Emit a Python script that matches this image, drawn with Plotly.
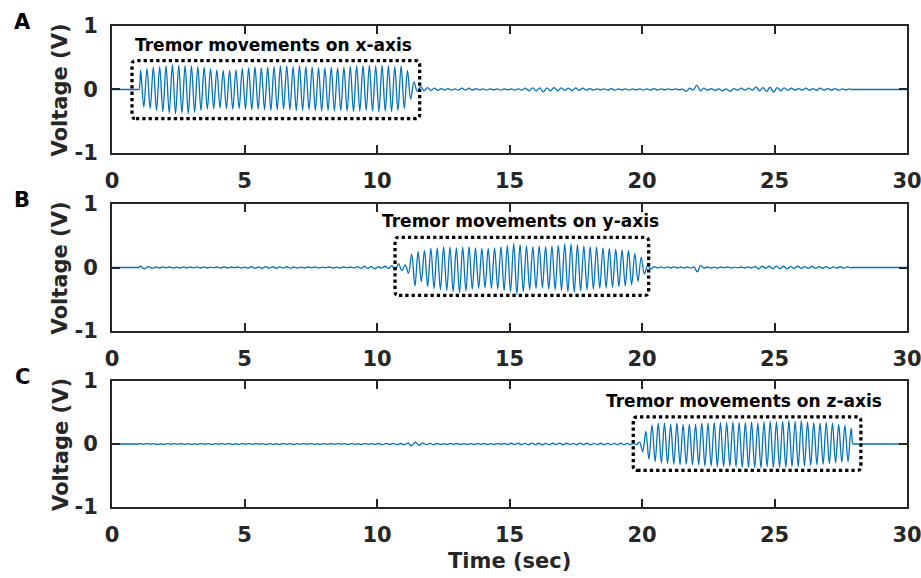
import plotly.graph_objects as go

# ---------------- data (values in mV) ----------------
# Panel A (x-axis tremor)
peaks_A = [300,330,350,360,370,390,380,380,370,360,350,330,310,300,300,310,330,340,350,340,
           350,360,370,370,360,370,360,350,340,340,350,340,350,360,370,380,380,370,380,370,
           360,370,300]
troughs_A = [-280,-300,-330,-350,-370,-380,-370,-380,-360,-330,-310,-300,-290,-300,-310,-300,-310,-320,-310,-320,
             -330,-320,-310,-320,-330,-330,-320,-330,-340,-330,-340,-330,-340,-350,-340,-330,-340,-350,-340,-350,
             -330,-300,-150]
A_q1 = [120,-30,50,-20,30,-15,20,-15,15,-10,15,-10,10]
A_q2 = [-10,20,-10,20,-10,15,-5,10,-10,10,-5,10,-10,10,-5,10,-10,10]
A_q3 = [-10,20,-20,25,-20,25,-40,25,-20,30,-20,25,-15,20,-20,25,-15,20,-10,15]
A_q4 = [-10,10,-5,10,-10,15,-10,10,-5,10,-10,10,-5,10,-10,10,-10,15,-10,10,-5,10,-5,10,-5,5]
A_q5 = [-30,20,-10,70,-20,20]
A_q6 = [-10,15,-15,10,-20,10,-30,15,-10,20,-10,20]
A_q7 = [-10,40,-20,30,-30,35,-40,30,-20,25,-15,20]
A_q8 = [-10,15,-10,20,-10,15,-15,20,-10,15,-10,15,-10,10,-5,10]

# Panel B (y-axis tremor)
B_q1 = [20,-20,15,-15]
B_q2 = [8,-8,10,-6,8,-8,6,-8,10,-8,8,-6,8,-8,10,-8,6,-6,8,-8,10,-8,8,-6,8,-8,6,-8]
B_q3 = [12,-12,10,-12,15,-10,12,-12,10,-10,12,-10]
B_q4 = [8,-8,6,-8,8,-6,8,-8,6,-6,8,-8,6,-8,8,-6,8,-8]
B_q5 = [15,-15,20,-15,15,-20,15,-10,20,-15]
B_q6 = [30,-40,60,-50,40,-90]
peaks_B = [210,250,270,300,310,330,320,310,320,330,310,300,300,310,330,350,380,360,340,330,
           340,330,340,350,370,370,360,340,330,320,310,300,290,280,270,220,160]
troughs_B = [-290,-220,-300,-330,-350,-360,-380,-400,-370,-340,-330,-320,-330,-340,-360,-380,-420,-380,-350,-330,
             -320,-340,-350,-360,-380,-390,-370,-350,-340,-330,-320,-310,-300,-290,-270,-220,-100]
B_q7 = [30,-20,15,-10,10,-10,10,-8,10,-8,8,-8,10,-10]
B_q8 = [10,-70,30,-10]
B_q9 = [8,-8,6,-8,8,-6,8,-8,6,-6,8,-8,10,-8]
B_q10 = [15,-20,20,-15,20,-20,25,-20,20,-20,15,-15,20,-15,15,-15,20,-15,15,-10,15,-15,10,-10,15,-10,10,-5]

# Panel C (z-axis tremor)
C_q1 = [5,-5,6,-4,5,-6,4,-5,6,-5, 5,-4,6,-6,5,-5,4,-5,6,-5, 5,-6,5,-4,6,-5,5,-5,4,-6,
        6,-5,5,-5,6,-4,5,-6,5,-5, 4,-5,6,-5,5,-6,5,-4,6,-5, 5,-5,4,-6,6,-5,5,-5,6,-4,
        5,-6,5,-5,4,-5,6,-5,5,-6]
C_q2 = [8,-10,10,-8,10,-10,8,-10]
C_q3 = [15,-30,30,-20,15,-10,10,-10]
C_q4 = [8,-8,6,-8,8,-6,8,-8,6,-8,8,-8,6,-6,8,-8,6,-8,8,-6,8,-8]
C_q5 = [12,-10,15,-12,10,-12,15,-10,12,-15,10,-12,12,-10,15,-12,12,-10,10,-12,15,-10,12,-12,10,-10,12,-12,10,-10]
C_q6 = [10,-10,12,-10,10,-12,10,-10]
C_pre = [30,-120]
peaks_C = [200,300,330,330,310,330,310,310,310,330,330,340,340,340,350,340,340,350,330,350,
           360,350,360,370,360,370,350,340,330,340,330,310,300,250]
troughs_C = [-240,-280,-300,-310,-320,-330,-320,-330,-330,-350,-350,-360,-360,-350,-360,-370,-370,-375,-375,-360,
             -375,-370,-370,-360,-360,-350,-340,-330,-320,-310,-300,-290,-280]

x_ticks = [0, 5, 10, 15, 20, 25, 30]
x_tick_text = ["0", "5", "10", "15", "20", "25", "30"]
y_ticks = [-1, 0, 1]
y_tick_text = ["-1", "0", "1"]
labels = ["A", "B", "C"]
box_texts = ["Tremor movements on x-axis", "Tremor movements on y-axis", "Tremor movements on z-axis"]


def interleave(p, t):
    out = []
    for i in range(max(len(p), len(t))):
        if i < len(p):
            out.append(p[i])
        if i < len(t):
            out.append(t[i])
    return out


def build(segments, t_first, t_last):
    # flat baseline before the first and after the last recorded wiggle
    ts, vs = [0.0, 0.05, t_first - 0.05, t_first], [0.0, 0.0, 0.0, 0.0]
    for t0, t1, vals in segments:
        n = len(vals)
        for i, v in enumerate(vals):
            ts.append(t0 + (i + 0.5) * (t1 - t0) / n)
            vs.append(v / 1000.0)
    ts += [t_last, t_last + 0.05, 29.95, 30.0]
    vs += [0.0, 0.0, 0.0, 0.0]
    return ts, vs


segA = [(1.02, 11.33, interleave(peaks_A, troughs_A)), (11.33, 13.0, A_q1), (13.0, 15.4, A_q2),
        (15.4, 18.1, A_q3), (18.1, 21.6, A_q4), (21.6, 22.4, A_q5), (22.4, 24.1, A_q6),
        (24.1, 25.7, A_q7), (25.7, 27.9, A_q8)]
segB = [(1.0, 1.6, B_q1), (1.6, 5.2, B_q2), (5.2, 6.8, B_q3), (6.8, 9.2, B_q4), (9.2, 10.5, B_q5),
        (10.5, 11.25, B_q6), (11.25, 20.15, interleave(peaks_B, troughs_B)), (20.15, 21.9, B_q7),
        (21.9, 22.4, B_q8), (22.4, 24.2, B_q9), (24.2, 27.95, B_q10)]
segC = [(1.0, 10.0, C_q1), (10.0, 11.1, C_q2), (11.1, 12.2, C_q3), (12.2, 15.0, C_q4),
        (15.0, 18.9, C_q5), (18.9, 19.85, C_q6), (19.85, 27.95, C_pre + interleave(peaks_C, troughs_C))]

series = [build(segA, 1.02, 27.9), build(segB, 1.0, 27.95), build(segC, 1.0, 27.96)]

# ---------------- figure ----------------
FONT = "DejaVu Sans"
LINE = "#0072BD"
AX = "#262626"
domains = [[0.736, 1.0], [0.3659, 0.6299], [0.0, 0.262]]

fig = go.Figure()
for k, (ts, vs) in enumerate(series):
    sfx = "" if k == 0 else str(k + 1)
    fig.add_trace(go.Scatter(x=ts, y=vs, mode="lines",
                             line=dict(color=LINE, width=1.3, shape="spline", smoothing=1.0),
                             xaxis="x" + sfx, yaxis="y" + sfx, showlegend=False, hoverinfo="skip"))

layout = dict(
    width=921, height=578,
    margin=dict(l=112, r=14, t=26, b=71, autoexpand=False),
    paper_bgcolor="white", plot_bgcolor="white",
    showlegend=False,
)
for k in range(3):
    sfx = "" if k == 0 else str(k + 1)
    layout["xaxis" + sfx] = dict(
        domain=[0, 1], anchor="y" + sfx, range=[0, 30], tickvals=x_ticks, ticktext=x_tick_text,
        ticks="inside", ticklen=8, tickwidth=2, tickcolor=AX, showline=True, linewidth=2,
        linecolor=AX, mirror="ticks", showgrid=False, zeroline=False, ticklabeloverflow="allow",
        automargin=False,
        tickfont=dict(family=FONT, size=21, color=AX, weight="bold"), ticklabelstandoff=8,
    )
    layout["yaxis" + sfx] = dict(
        domain=domains[k], anchor="x" + sfx, range=[-1, 1], tickvals=y_ticks, ticktext=y_tick_text,
        ticks="inside", ticklen=8, tickwidth=2, tickcolor=AX, showline=True, linewidth=2,
        linecolor=AX, mirror="ticks", showgrid=False, zeroline=False, ticklabeloverflow="allow",
        automargin=False,
        tickfont=dict(family=FONT, size=21, color=AX, weight="bold"), ticklabelstandoff=8,
    )
fig.update_layout(**layout)

# boxes (dotted, rounded) and texts
boxes = [(0.755, 11.61, -0.46, 0.454), (10.68, 20.25, -0.44, 0.476), (19.67, 28.26, -0.42, 0.43)]
text_pos = [(6.09, 0.70), (15.43, 0.74), (23.85, 0.69)]
rx, ry = 0.15, 0.065
for k in range(3):
    sfx = "" if k == 0 else str(k + 1)
    x0, x1, y0, y1 = boxes[k]
    path = (f"M{x0+rx},{y0} L{x1-rx},{y0} Q{x1},{y0} {x1},{y0+ry} L{x1},{y1-ry} "
            f"Q{x1},{y1} {x1-rx},{y1} L{x0+rx},{y1} Q{x0},{y1} {x0},{y1-ry} "
            f"L{x0},{y0+ry} Q{x0},{y0} {x0+rx},{y0} Z")
    fig.add_shape(type="path", path=path, xref="x" + sfx, yref="y" + sfx,
                  line=dict(color="black", width=3.3, dash="3.3px,3px"))
    tx, ty = text_pos[k]
    fig.add_annotation(x=tx, y=ty, xref="x" + sfx, yref="y" + sfx, text=box_texts[k],
                       showarrow=False, font=dict(family=FONT, size=17, color="black", weight="bold"),
                       xanchor="center", yanchor="middle")

label_y = [1.0073, 0.639, 0.2713]
volt_y = [0.868, 0.498, 0.131]
for k in range(3):
    fig.add_annotation(x=-0.1132, y=label_y[k], xref="paper", yref="paper", text=labels[k],
                       showarrow=False, font=dict(family=FONT, size=21, color="black", weight="bold"),
                       xanchor="center", yanchor="middle")
    fig.add_annotation(x=-0.0642, y=volt_y[k], xref="paper", yref="paper", text="Voltage (V)",
                       textangle=-90, showarrow=False,
                       font=dict(family=FONT, size=21, color=AX, weight="bold"),
                       xanchor="center", yanchor="middle")
fig.add_annotation(x=0.5, y=-0.112, xref="paper", yref="paper", text="Time (sec)", showarrow=False,
                   font=dict(family=FONT, size=21, color=AX, weight="bold"),
                   xanchor="center", yanchor="middle")

fig.write_html("out.html")
